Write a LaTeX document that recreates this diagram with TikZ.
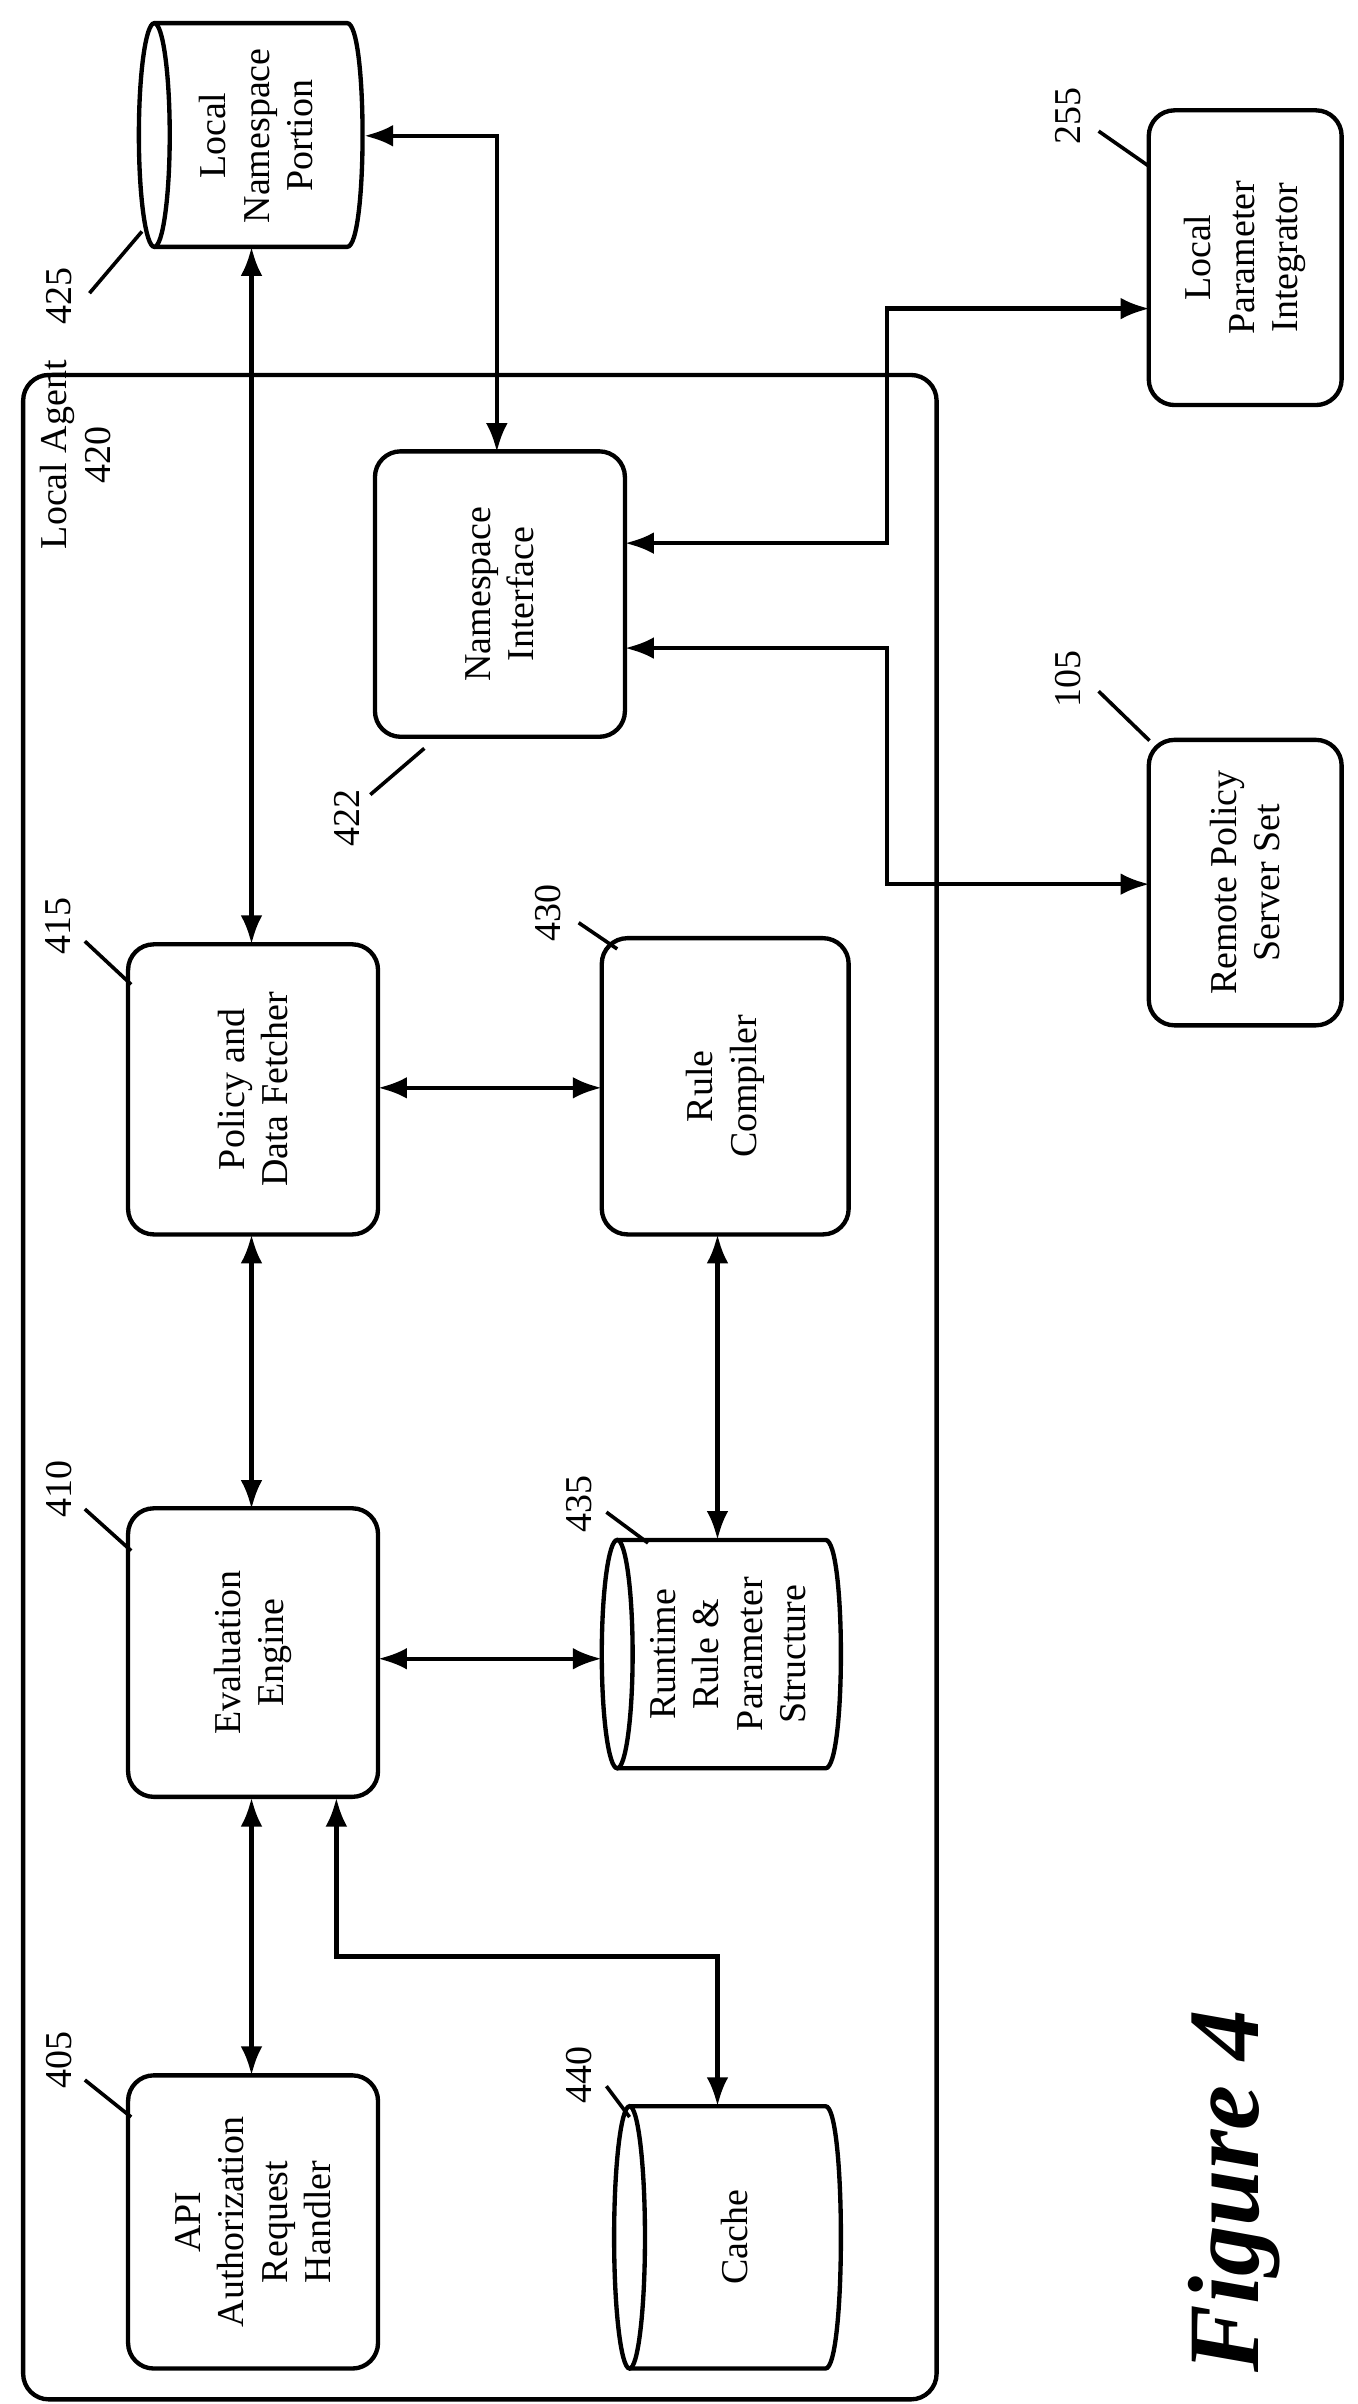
\documentclass[tikz,border=0pt]{standalone}
\usepackage{fontspec}
\setmainfont{Liberation Serif}
\usetikzlibrary{arrows.meta}
\newcommand\mycyl[4]{% x1 y1 x2 y2
  \draw[line width=2.4pt] ({#1+10},{(#2+#4)/2}) ellipse [x radius=10,y radius={(#4-#2)/2}];
  \draw[line width=2.4pt] ({#1+10},#2) -- ({#3-10},#2) .. controls ({#3+3.3},#2) and ({#3+3.3},#4) .. ({#3-10},#4) -- ({#1+10},#4);}
\begin{document}
\begin{tikzpicture}[x=0.03cm,y=-0.03cm,
  every node/.style={font=\fontsize{21}{24}\selectfont},
  box/.style={draw,line width=2.4pt,rounded corners=0.5cm,rotate=90,align=center,inner sep=0pt},
  txt/.style={rotate=90,align=center},
  num/.style={rotate=90},
  ar/.style={line width=2.4pt,{Latex[length=16pt,width=12pt]}-{Latex[length=16pt,width=12pt]}},
  lead/.style={line width=2pt}]
\useasboundingbox (0,0) rectangle (880,1558);
% Outer
\draw[line width=2.4pt,rounded corners=0.5cm] (15,243) rectangle (607,1555);
\node[txt,anchor=north west] (la) at (22,360) {Local Agent\\420};
\node[box,minimum width=5.55cm,minimum height=4.86cm] (ni) at (324,385) {Namespace\\Interface};
\node[box,minimum width=5.73cm,minimum height=3.75cm] (lpi) at (807,167) {Local\\Parameter\\Integrator};
\node[box,minimum width=5.55cm,minimum height=3.75cm] (rps) at (807,572) {Remote Policy\\Server Set};
\node[box,minimum width=5.64cm,minimum height=4.86cm] (pdf) at (164,706) {Policy and\\Data Fetcher};
\node[box,minimum width=5.76cm,minimum height=4.8cm] (rc) at (470,704) {Rule\\Compiler};
\node[box,minimum width=5.61cm,minimum height=4.86cm] (ee) at (164,1071) {Evaluation\\Engine};
\node[box,minimum width=5.7cm,minimum height=4.86cm] (api) at (164,1440) {API\\Authorization\\Request\\Handler};
% cylinders
\mycyl{90}{15}{235}{160}
\node[txt] (lnpt) at (166,88) {Local\\Namespace\\Portion};
\mycyl{390}{998}{545}{1146}
\node[txt] (rtt) at (472,1072) {Runtime\\Rule \&\\Parameter\\Structure};
\mycyl{398}{1365}{545}{1535}
\node[txt] (cat) at (476,1450) {Cache};
% numbers
\node[num] (n425) at (38,192) {425};
\draw[lead] (58,190) -- (92,150);
\node[num] (n422) at (225,530) {422};
\draw[lead] (240,515) -- (275,485);
\node[num] (n255) at (692,75) {255};
\draw[lead] (712,85) -- (745,108);
\node[num] (n105) at (692,440) {105};
\draw[lead] (712,448) -- (745,480);
\node[num] (n415) at (38,600) {415};
\draw[lead] (55,610) -- (85,638);
\node[num] (n430) at (355,592) {430};
\draw[lead] (375,598) -- (400,615);
\node[num] (n410) at (38,965) {410};
\draw[lead] (55,978) -- (85,1005);
\node[num] (n435) at (375,975) {435};
\draw[lead] (393,980) -- (420,1000);
\node[num] (n405) at (38,1335) {405};
\draw[lead] (55,1348) -- (85,1372);
\node[num] (n440) at (375,1345) {440};
\draw[lead] (393,1352) -- (408,1372);
% arrows
\draw[ar] (163,612) -- (163,160);
\draw[ar] (236,88) -- (322,88) -- (322,293);
\draw[ar] (405,352) -- (575,352) -- (575,200) -- (745,200);
\draw[ar] (405,420) -- (575,420) -- (575,573) -- (745,573);
\draw[ar] (245,705) -- (390,705);
\draw[ar] (163,800) -- (163,978);
\draw[ar] (465,800) -- (465,998);
\draw[ar] (245,1075) -- (390,1075);
\draw[ar] (163,1165) -- (163,1345);
\draw[ar] (218,1165) -- (218,1268) -- (465,1268) -- (465,1365);
\node[rotate=90,font=\fontsize{56}{60}\selectfont\bfseries\itshape] (fig) at (800,1420) {Figure 4};
\end{tikzpicture}
\end{document}
